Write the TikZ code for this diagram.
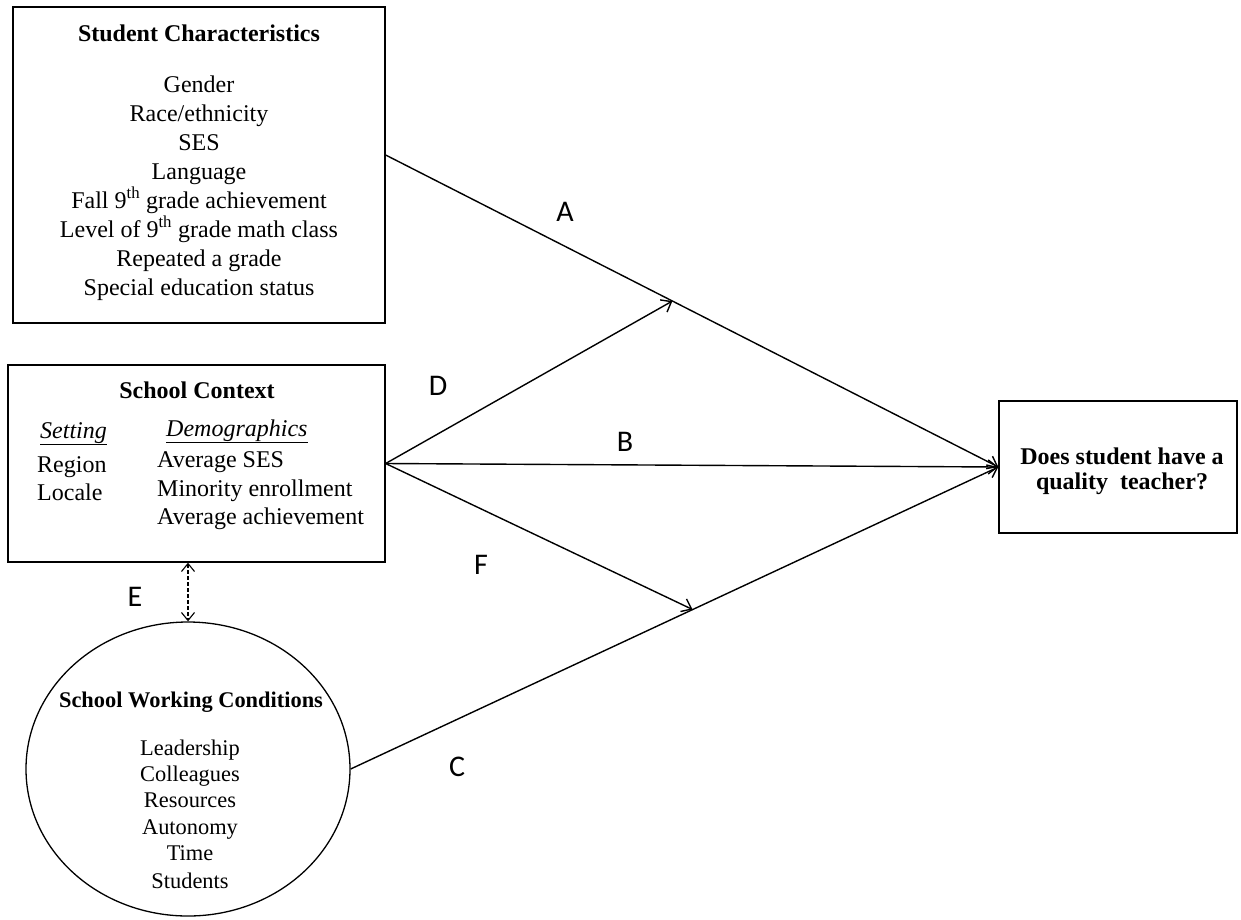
\documentclass[tikz,border=0pt]{standalone}
\usepackage{fontspec}
\setmainfont{Liberation Serif}
\newfontfamily\labfont{Carlito}
\usetikzlibrary{arrows.meta,shapes.geometric,calc}
\tikzset{
  box/.style={draw, line width=1.3pt, inner sep=0pt, rectangle},
  oval/.style={draw, line width=1.3pt, inner sep=0pt, ellipse},
  txt/.style={inner sep=0pt, anchor=base, font=\fontsize{24}{29}\selectfont},
  txtl/.style={txt, anchor=base west},
  ctxt/.style={inner sep=0pt, anchor=base, font=\fontsize{22.4}{26}\selectfont},
  lab/.style={inner sep=0pt, font=\labfont\fontsize{30}{30}\selectfont},
  conn/.style={line width=1.4pt, -{Straight Barb[length=9pt,width=14pt,line width=1.4pt]}},
  dconn/.style={line width=1.1pt, dash pattern=on 4pt off 2pt,
    {Straight Barb[length=8pt,width=13pt,line width=1.1pt]}-{Straight Barb[length=8pt,width=13pt,line width=1.1pt]}}
}
\begin{document}
\begin{tikzpicture}[x=1pt,y=-1pt]
\useasboundingbox (0,0) rectangle (1241,919);
% boxes
\node[box, minimum width=372pt, minimum height=316pt] (sc) at (199,165) {};
\node[box, minimum width=377pt, minimum height=197pt] (ctx) at (196.5,463.5) {};
\node[box, minimum width=238pt, minimum height=132pt] (q) at (1118,467) {};
\node[oval, minimum width=324pt, minimum height=294pt] (wc) at (188,769) {};
% student characteristics text
\node[txt, font=\bfseries\fontsize{24}{29}\selectfont] (sct) at (199,41) {Student Characteristics};
\node[txt] (sc1) at (199,92) {Gender};
\node[txt] (sc2) at (199,121) {Race/ethnicity};
\node[txt] (sc3) at (199,150) {SES};
\node[txt] (sc4) at (199,179) {Language};
\node[txt] (sc5) at (199,208) {Fall 9\textsuperscript{th} grade achievement};
\node[txt] (sc6) at (199,237) {Level of 9\textsuperscript{th} grade math class};
\node[txt] (sc7) at (199,266) {Repeated a grade};
\node[txt] (sc8) at (199,295) {Special education status};
% school context text
\node[txt, font=\bfseries\fontsize{24}{29}\selectfont] (ctxt) at (197,398) {School Context};
\node[txtl] (set) at (40,438) {\underline{\textit{Setting}}};
\node[txtl] (set1) at (37,472) {Region};
\node[txtl] (set2) at (37,500) {Locale};
\node[txtl] (dem) at (166,436) {\underline{\textit{Demographics}}};
\node[txtl] (dem1) at (157,467) {Average SES};
\node[txtl] (dem2) at (157,496) {Minority enrollment};
\node[txtl] (dem3) at (157,524) {Average achievement};
% working conditions text
\node[ctxt, font=\bfseries\fontsize{22.4}{26}\selectfont] (wct) at (191,707) {School Working Conditions};
\node[ctxt] (wc1) at (190,755) {Leadership};
\node[ctxt] (wc2) at (190,781) {Colleagues};
\node[ctxt] (wc3) at (190,807) {Resources};
\node[ctxt] (wc4) at (190,834) {Autonomy};
\node[ctxt] (wc5) at (190,860) {Time};
\node[ctxt] (wc6) at (190,888) {Students};
% outcome text
\node[txt, font=\bfseries\fontsize{24}{29}\selectfont] (q1) at (1122,464) {Does student have a};
\node[txt, font=\bfseries\fontsize{24}{29}\selectfont] (q2) at (1122,489) {quality\ \ teacher?};
% connectors
\coordinate (a0) at ([yshift=10pt]sc.east);
\coordinate (dA) at ($(a0)!0.468!(q.west)$);
\coordinate (fC) at ($(wc.east)!0.528!(q.west)$);
\draw[conn] (a0) -- (q.west);
\draw[conn] (ctx.east) -- (q.west);
\draw[conn] (wc.east) -- (q.west);
\draw[conn] (ctx.east) -- (dA);
\draw[conn] (ctx.east) -- (fC);
\draw[dconn] (wc.north |- ctx.south) -- (wc.north);
% labels
\node[lab] (lA) at (565,212) {A};
\node[lab] (lD) at (438,386) {D};
\node[lab] (lB) at (625,442) {B};
\node[lab] (lF) at (481,565) {F};
\node[lab] (lE) at (135,597) {E};
\node[lab] (lC) at (457,767) {C};
\end{tikzpicture}
\end{document}
